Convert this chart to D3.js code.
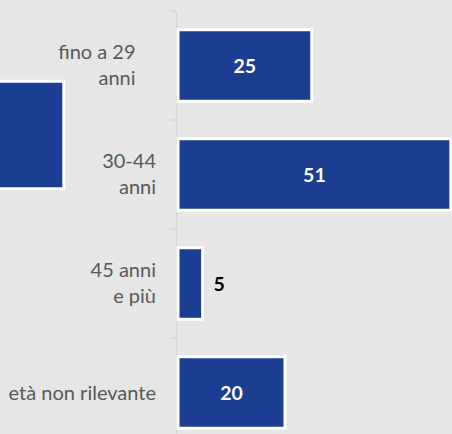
<!DOCTYPE html>
<html>
<head>
<meta charset="utf-8">
<script src="https://cdn.jsdelivr.net/npm/d3@7"></script>
<style>
  html, body { margin: 0; padding: 0; background: #e6e6e6; }
  svg { display: block; }
</style>
</head>
<body>
<svg id="chart" width="452" height="434"></svg>
<script>
// ---- data ----
const categories = ["fino a 29 anni", "30-44 anni", "45 anni e più", "età non rilevante"];
const categoryLines = [["fino a 29\u00a0\u00a0\u00a0\u00a0", "anni\u00a0\u00a0\u00a0\u00a0"], ["30-44", "anni"], ["45 anni", "e più"], ["età non rilevante"]];
const values = [25, 51, 4.6, 20];
const valueLabels = ["25", "51", "5", "20"];
// fragment of the neighbouring panel (cut off at the left edge)
const neighbourCategories = ["prev"];
const neighbourValues = [68];

const svg = d3.select("#chart");
const W = 452, H = 434;
const blue = "#1b3e93";

svg.append("rect").attr("width", W).attr("height", H).attr("fill", "#e6e6e6");

// ---- main panel scales ----
const y = d3.scaleBand().domain(categories).range([11, 447]).paddingInner(0.344).paddingOuter(0.172);
const x = d3.scaleLinear().domain([0, 60]).range([178, 499]);

// ---- neighbour panel scales ----
const y2 = d3.scaleBand().domain(neighbourCategories).range([27.5, 242.5]).paddingInner(0.5).paddingOuter(0.25);
const x2 = d3.scaleLinear().domain([0, 60]).range([-300, 21]);

svg.append("g").selectAll("rect").data(neighbourValues).join("rect")
  .attr("x", x2(0)).attr("y", (d, i) => y2(neighbourCategories[i]))
  .attr("width", d => x2(d) - x2(0)).attr("height", y2.bandwidth())
  .attr("fill", blue).attr("stroke", "#fff").attr("stroke-width", 3);

// ---- axis line and ticks at band boundaries ----
const bounds = categories.map(c => y(c) - y.step() * y.paddingInner() / 2).concat([y.range()[1]]);
svg.append("line").attr("x1", 176.5).attr("x2", 176.5).attr("y1", y.range()[0]).attr("y2", y.range()[1])
  .attr("stroke", "#d6d6d6").attr("stroke-width", 1.5);
svg.append("g").selectAll("line").data(bounds).join("line")
  .attr("x1", 170).attr("x2", 176.5).attr("y1", d => d).attr("y2", d => d)
  .attr("stroke", "#d6d6d6").attr("stroke-width", 1.5);

// ---- bars ----
svg.append("g").selectAll("rect").data(values).join("rect")
  .attr("x", x(0)).attr("y", (d, i) => y(categories[i]))
  .attr("width", d => x(d) - x(0)).attr("height", y.bandwidth())
  .attr("fill", blue).attr("stroke", "#fff").attr("stroke-width", 3);

// ---- value labels ----
svg.append("g").selectAll("text").data(values).join("text")
  .attr("x", d => d < 10 ? x(d) + 11 : (x(0) + x(d)) / 2)
  .attr("y", (d, i) => y(categories[i]) + y.bandwidth() / 2)
  .attr("dy", "0.36em")
  .attr("text-anchor", d => d < 10 ? "start" : "middle")
  .attr("fill", d => d < 10 ? "#000" : "#fff")
  .attr("font-family", "Lato, 'Open Sans', sans-serif")
  .attr("font-weight", "bold").attr("font-size", 19.5)
  .text((d, i) => valueLabels[i]);

// ---- category labels ----
const gCat = svg.append("g").attr("font-family", "Lato, 'Open Sans', sans-serif").attr("font-size", 20).attr("fill", "#595959");
categories.forEach((c, i) => {
  const lines = categoryLines[i];
  const cy = y(c) + y.bandwidth() / 2;
  const t = gCat.append("text").attr("text-anchor", "end").attr("x", 156)
    .attr("y", lines.length === 1 ? cy + 7 : cy - 6.5);
  lines.forEach((l, j) => {
    t.append("tspan").attr("x", 156).attr("dy", j === 0 ? 0 : 26).text(l);
  });
});
</script>
</body>
</html>
